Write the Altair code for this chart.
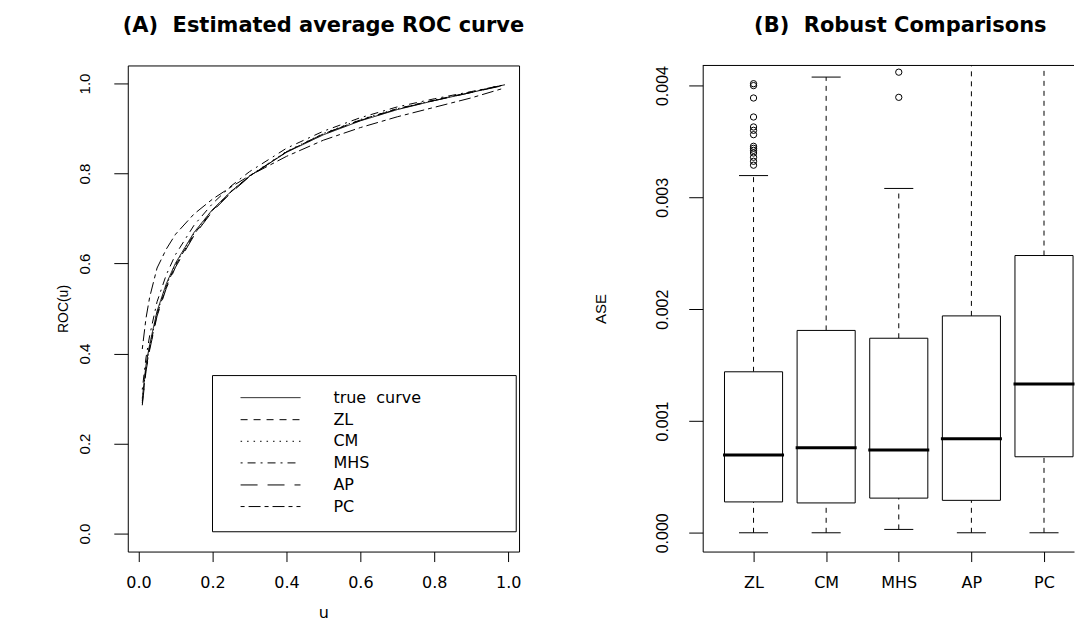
import altair as alt
import pandas as pd

# ---------------- Panel A data ----------------
U = [0.01, 0.02, 0.03, 0.05, 0.075, 0.1, 0.15, 0.2, 0.25, 0.3, 0.4, 0.5, 0.6, 0.7, 0.8, 0.9, 0.99]
ROC_TRUE = [0.300, 0.374, 0.420, 0.494, 0.555, 0.601, 0.669, 0.720, 0.760, 0.794, 0.847, 0.886, 0.917, 0.942, 0.962, 0.980, 0.997]
ROC_ZL = [0.290, 0.365, 0.412, 0.487, 0.549, 0.596, 0.665, 0.718, 0.759, 0.794, 0.848, 0.888, 0.919, 0.944, 0.963, 0.981, 0.997]
ROC_CM = [0.295, 0.370, 0.417, 0.490, 0.552, 0.598, 0.667, 0.719, 0.760, 0.795, 0.849, 0.889, 0.920, 0.944, 0.963, 0.981, 0.997]
ROC_MHS = [0.320, 0.390, 0.440, 0.515, 0.575, 0.620, 0.685, 0.733, 0.772, 0.804, 0.856, 0.894, 0.924, 0.948, 0.966, 0.982, 0.997]
ROC_AP = [0.285, 0.360, 0.408, 0.483, 0.545, 0.592, 0.662, 0.716, 0.757, 0.793, 0.848, 0.888, 0.918, 0.943, 0.962, 0.980, 0.996]
ROC_PC = [0.410, 0.478, 0.525, 0.590, 0.632, 0.665, 0.710, 0.743, 0.770, 0.795, 0.838, 0.874, 0.902, 0.926, 0.947, 0.968, 0.990]

SERIES = ["true \u00a0curve", "ZL", "CM", "MHS", "AP", "PC"]
CURVES = [ROC_TRUE, ROC_ZL, ROC_CM, ROC_MHS, ROC_AP, ROC_PC]
DASHES = [[1, 0], [7, 6], [1.5, 5], [2, 5, 8, 5], [17, 10], [4, 4, 12, 4]]

X_TICKS = [0.0, 0.2, 0.4, 0.6, 0.8, 1.0]
Y_TICKS = [0.0, 0.2, 0.4, 0.6, 0.8, 1.0]
X_DOMAIN = [-0.0292, 1.0292]
Y_DOMAIN = [-0.04, 1.04]

# legend placement (data units of panel A)
LEG_BOX = [0.2, 1.0216, 0.351, 0.004]
LEG_ROWS = [0.302, 0.253, 0.205, 0.157, 0.108, 0.060]
LEG_LINE = [0.276, 0.438]
LEG_TEXT_X = 0.527

# ---------------- Panel B data ----------------
CATS = ["ZL", "CM", "MHS", "AP", "PC"]
Q1 = [0.000276, 0.000267, 0.000310, 0.000290, 0.000680]
MED = [0.000695, 0.000760, 0.000740, 0.000840, 0.001330]
Q3 = [0.001440, 0.001810, 0.001740, 0.001940, 0.002480]
LOW = [0.0, 0.0, 0.00003, 0.0, 0.0]
HIGH = [0.003195, 0.004076, 0.003080, 0.004600, 0.005600]
OUT_ZL = [0.004017, 0.004000, 0.003889, 0.003719, 0.003630, 0.003600, 0.003561,
          0.003457, 0.003439, 0.003421, 0.003397, 0.003359, 0.003323, 0.003288]
OUT_MHS = [0.004120, 0.003895]
B_TICKS = [0.0, 0.001, 0.002, 0.003, 0.004]
B_DOMAIN = [-0.000168, 0.00418]
B_XDOMAIN = [0.3, 5.413]

BOX_HALF = 0.4
CAP_HALF = 0.2
MED_HALF = 0.42

TITLE_A = "(A)\u00a0 Estimated average ROC curve"
TITLE_B = "(B)\u00a0 Robust Comparisons"

FONT = "Liberation Sans"
WIDE = "DejaVu Sans"
W_A, W_B, H = 392, 372, 487

# ---------------- Panel A ----------------
curve_df = pd.DataFrame(
    [{"u": u, "roc": r, "series": s} for s, c in zip(SERIES, CURVES) for u, r in zip(U, c)]
)
xs = alt.Scale(domain=X_DOMAIN, nice=False, zero=False)
ys = alt.Scale(domain=Y_DOMAIN, nice=False, zero=False)
dash = alt.StrokeDash("series:N", scale=alt.Scale(domain=SERIES, range=DASHES), legend=None)

AX_A_X = alt.Axis(
    values=X_TICKS, format=".1f", title="u", grid=False, domain=False,
    tickColor="black", tickSize=10, labelPadding=13, labelFont=WIDE, labelFontSize=16,
    labelColor="black", titleFont=WIDE, titleFontSize=16, titleFontWeight="normal",
    titleColor="black", titleY=61, titleBaseline="middle")
AX_A_Y = alt.Axis(
    values=Y_TICKS, format=".1f", title="ROC(u)", grid=False, domain=False,
    tickColor="black", tickSize=14, labelPadding=21, labelFont=FONT, labelFontSize=15,
    labelColor="black", labelAngle=-90, labelAlign="center", labelBaseline="bottom",
    titleFont=FONT, titleFontSize=14, titleFontWeight="normal", titleColor="black",
    titleX=-64, titleAngle=-90, titleBaseline="middle", titleAlign="center")

lines = alt.Chart(curve_df).mark_line(color="black", strokeWidth=1, clip=True).encode(
    x=alt.X("u:Q", scale=xs, axis=AX_A_X),
    y=alt.Y("roc:Q", scale=ys, axis=AX_A_Y),
    strokeDash=dash,
    detail="series:N",
)

box_df = pd.DataFrame({"x": [LEG_BOX[0]], "x2": [LEG_BOX[1]], "y": [LEG_BOX[2]], "y2": [LEG_BOX[3]]})
leg_box = alt.Chart(box_df).mark_rect(fill=None, stroke="black", strokeWidth=1).encode(
    x=alt.X("x:Q", scale=xs, axis=AX_A_X), x2="x2", y=alt.Y("y:Q", scale=ys, axis=AX_A_Y), y2="y2"
)

leg_df = pd.DataFrame({"series": SERIES, "y": LEG_ROWS, "x1": LEG_LINE[0], "x2": LEG_LINE[1], "tx": LEG_TEXT_X})
leg_lines = alt.Chart(leg_df).mark_rule(color="black", strokeWidth=1).encode(
    x=alt.X("x1:Q", scale=xs, axis=AX_A_X), x2="x2", y=alt.Y("y:Q", scale=ys, axis=AX_A_Y), strokeDash=dash
)
leg_text = alt.Chart(leg_df).mark_text(align="left", baseline="middle", font=WIDE, fontSize=16, color="black").encode(
    x=alt.X("tx:Q", scale=xs, axis=AX_A_X), y=alt.Y("y:Q", scale=ys, axis=AX_A_Y), text="series:N"
)

title_a = alt.Chart(pd.DataFrame({"t": [TITLE_A]})).mark_text(
    font=WIDE, fontSize=21, fontWeight="bold", color="black", align="center", baseline="alphabetic"
).encode(x=alt.value(W_A / 2), y=alt.value(-34), text="t:N")

anchor = alt.Chart(pd.DataFrame({"a": [0]})).mark_rule(opacity=0, strokeWidth=0).encode(
    x=alt.value(-119), x2=alt.value(-119), y=alt.value(-56), y2=alt.value(-54)
)

panel_a = alt.layer(lines, leg_box, leg_lines, leg_text, title_a, anchor).properties(width=W_A, height=H)

# ---------------- Panel B ----------------
pos = list(range(1, len(CATS) + 1))
bdf = pd.DataFrame({"cat": CATS, "pos": pos, "q1": Q1, "med": MED, "q3": Q3, "lo": LOW, "hi": HIGH})
bdf["bx1"] = bdf["pos"] - BOX_HALF
bdf["bx2"] = bdf["pos"] + BOX_HALF
bdf["cx1"] = bdf["pos"] - CAP_HALF
bdf["cx2"] = bdf["pos"] + CAP_HALF
bdf["mx1"] = bdf["pos"] - MED_HALF
bdf["mx2"] = bdf["pos"] + MED_HALF
odf = pd.DataFrame(
    [{"pos": 1, "v": v} for v in OUT_ZL] + [{"pos": 3, "v": v} for v in OUT_MHS]
)

bxs = alt.Scale(domain=B_XDOMAIN, nice=False, zero=False)
bys = alt.Scale(domain=B_DOMAIN, nice=False, zero=False)
label_expr = "[" + ",".join("'" + c + "'" for c in CATS) + "][datum.value - 1]"

AX_B_X = alt.Axis(
    values=pos, labelExpr=label_expr, title="", grid=False, domain=True, domainColor="black",
    tickColor="black", tickSize=10, labelPadding=13, labelFont=WIDE, labelFontSize=16,
    labelColor="black")
AX_B_Y = alt.Axis(
    values=B_TICKS, format=".3f", title="ASE", grid=False, domain=True, domainColor="black",
    tickColor="black", tickSize=14, labelPadding=18, labelFont=FONT, labelFontSize=16,
    labelColor="black", labelAngle=-90, labelAlign="center", labelBaseline="bottom",
    titleFont=FONT, titleFontSize=15, titleFontWeight="normal", titleColor="black",
    titleX=-102, titleAngle=-90, titleBaseline="middle", titleAlign="center")

base = alt.Chart(bdf)
boxes = base.mark_rect(fill="white", stroke="black", strokeWidth=1).encode(
    x=alt.X("bx1:Q", scale=bxs, axis=AX_B_X), x2="bx2",
    y=alt.Y("q1:Q", scale=bys, axis=AX_B_Y), y2="q3",
)
w_up = base.mark_rule(color="black", strokeWidth=1, strokeDash=[5, 5], clip=True).encode(
    x=alt.X("pos:Q", scale=bxs, axis=AX_B_X), y=alt.Y("q3:Q", scale=bys, axis=AX_B_Y), y2="hi"
)
w_lo = base.mark_rule(color="black", strokeWidth=1, strokeDash=[5, 5], clip=True).encode(
    x=alt.X("pos:Q", scale=bxs, axis=AX_B_X), y=alt.Y("lo:Q", scale=bys, axis=AX_B_Y), y2="q1"
)
cap_up = base.mark_rule(color="black", strokeWidth=1, clip=True).encode(
    x=alt.X("cx1:Q", scale=bxs, axis=AX_B_X), x2="cx2", y=alt.Y("hi:Q", scale=bys, axis=AX_B_Y)
)
cap_lo = base.mark_rule(color="black", strokeWidth=1, clip=True).encode(
    x=alt.X("cx1:Q", scale=bxs, axis=AX_B_X), x2="cx2", y=alt.Y("lo:Q", scale=bys, axis=AX_B_Y)
)
medians = base.mark_rule(color="black", strokeWidth=3).encode(
    x=alt.X("mx1:Q", scale=bxs, axis=AX_B_X), x2="mx2", y=alt.Y("med:Q", scale=bys, axis=AX_B_Y)
)
outliers = alt.Chart(odf).mark_point(shape="circle", filled=False, color="black", size=40, strokeWidth=1, opacity=1).encode(
    x=alt.X("pos:Q", scale=bxs, axis=AX_B_X), y=alt.Y("v:Q", scale=bys, axis=AX_B_Y)
)
top_border = alt.Chart(pd.DataFrame({"t": [B_DOMAIN[1]]})).mark_rule(color="black", strokeWidth=1).encode(
    y=alt.Y("t:Q", scale=bys, axis=AX_B_Y)
)
title_b = alt.Chart(pd.DataFrame({"t": [TITLE_B]})).mark_text(
    font=WIDE, fontSize=21, fontWeight="bold", color="black", align="center", baseline="alphabetic"
).encode(x=alt.value(W_B / 2 + 12), y=alt.value(-34), text="t:N")

panel_b = alt.layer(w_up, w_lo, cap_up, cap_lo, boxes, medians, outliers, top_border, title_b).properties(
    width=W_B, height=H,
    view=alt.ViewBackground(stroke=None),
)

chart = alt.hconcat(panel_a, panel_b, spacing=184, bounds="flush").properties(
    autosize=alt.AutoSizeParams(type="pad"), padding=0
).configure(font=FONT).configure_view(stroke="black", strokeWidth=1)

chart.save("out.html", embed_options={"renderer": "svg", "actions": False})
